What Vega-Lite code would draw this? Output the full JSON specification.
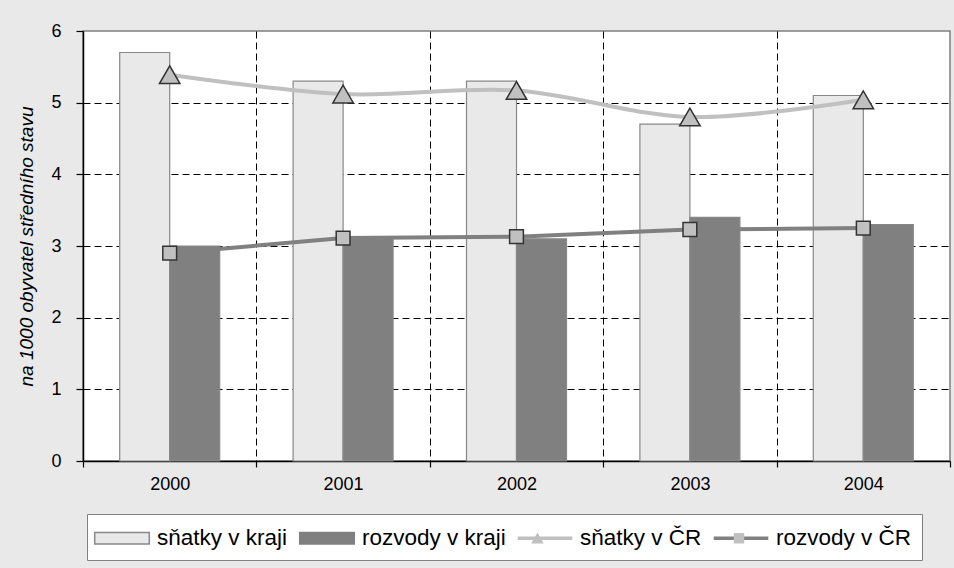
{
  "$schema": "https://vega.github.io/schema/vega-lite/v6.json",
  "width": 867,
  "height": 430,
  "autosize": {"type": "none"},
  "padding": {"left": 83, "top": 31, "right": 4, "bottom": 107},
  "background": "#e9e9e9",
  "datasets": {
    "bars": [
      {"year": "2000", "series": "sňatky v kraji", "value": 5.7},
      {"year": "2000", "series": "rozvody v kraji", "value": 3.0},
      {"year": "2001", "series": "sňatky v kraji", "value": 5.3},
      {"year": "2001", "series": "rozvody v kraji", "value": 3.1},
      {"year": "2002", "series": "sňatky v kraji", "value": 5.3},
      {"year": "2002", "series": "rozvody v kraji", "value": 3.1},
      {"year": "2003", "series": "sňatky v kraji", "value": 4.7},
      {"year": "2003", "series": "rozvody v kraji", "value": 3.4},
      {"year": "2004", "series": "sňatky v kraji", "value": 5.1},
      {"year": "2004", "series": "rozvody v kraji", "value": 3.3}
    ],
    "lines": [
      {"year": "2000", "series": "sňatky v ČR", "value": 5.39},
      {"year": "2001", "series": "sňatky v ČR", "value": 5.12},
      {"year": "2002", "series": "sňatky v ČR", "value": 5.17},
      {"year": "2003", "series": "sňatky v ČR", "value": 4.8},
      {"year": "2004", "series": "sňatky v ČR", "value": 5.04},
      {"year": "2000", "series": "rozvody v ČR", "value": 2.9},
      {"year": "2001", "series": "rozvody v ČR", "value": 3.11},
      {"year": "2002", "series": "rozvody v ČR", "value": 3.13},
      {"year": "2003", "series": "rozvody v ČR", "value": 3.23},
      {"year": "2004", "series": "rozvody v ČR", "value": 3.25}
    ]
  },
  "config": {
    "font": "Liberation Sans",
    "view": {"fill": "white", "stroke": "#808080", "strokeWidth": 1.5},
    "axis": {
      "labelFont": "Liberation Sans",
      "labelFontSize": 18,
      "labelColor": "black",
      "titleFont": "Liberation Sans",
      "titleColor": "black",
      "domainColor": "black",
      "tickColor": "black"
    },
    "legend": {
      "labelFont": "Liberation Sans",
      "labelFontSize": 22.5,
      "labelColor": "black",
      "symbolSize": 676,
      "symbolStrokeWidth": 1.5,
      "symbolOffset": 11,
      "labelOffset": 21,
      "columnPadding": 8,
      "padding": 10,
      "direction": "horizontal",
      "columns": 4
    }
  },
  "layer": [
    {
      "data": {"name": "bars"},
      "mark": {"type": "bar", "stroke": "#888888", "strokeWidth": 1.2},
      "encoding": {
        "x": {
          "field": "year", "type": "nominal",
          "scale": {"paddingInner": 0, "paddingOuter": 0},
          "axis": {"title": null, "labelAngle": 0, "tickBand": "extent", "grid": false, "tickSize": 6, "labelPadding": 8, "domainWidth": 1.5, "tickWidth": 1.2}
        },
        "xOffset": {
          "field": "series", "type": "nominal",
          "scale": {"domain": ["sňatky v kraji", "rozvody v kraji"], "paddingInner": 0, "paddingOuter": 0.734}
        },
        "y": {
          "field": "value", "type": "quantitative",
          "scale": {"domain": [0, 6], "nice": false},
          "axis": {
            "title": "na 1000 obyvatel středního stavu",
            "values": [0, 1, 2, 3, 4, 5, 6],
            "grid": false, "tickSize": 7, "labelPadding": 15, "domainWidth": 1.5, "tickWidth": 1.2,
            "titleFontStyle": "italic", "titleFontSize": 19, "titleFontWeight": "normal", "titlePadding": 14
          }
        },
        "color": {
          "field": "series", "type": "nominal",
          "scale": {
            "domain": ["sňatky v kraji", "rozvody v kraji", "sňatky v ČR", "rozvody v ČR"],
            "range": ["#e9e9e9", "#808080", "#c0c0c0", "#808080"]
          },
          "legend": {
            "title": null, "orient": "none", "legendX": 4, "legendY": 483,
            "direction": "horizontal", "columns": 4,
            "fillColor": "white", "strokeColor": "#808080",
            "symbolType": {"expr": "datum.value == 'sňatky v ČR' || datum.value == 'rozvody v ČR' ? 'M-2.1,-0.14H2.1V0.14H-2.1Z' : 'M-2.1,-0.44H2.1V0.44H-2.1Z'"},
            "symbolStrokeColor": {"expr": "datum.value == 'sňatky v kraji' ? '#888888' : datum.value == 'rozvody v kraji' ? '#808080' : 'transparent'"},
            "symbolOpacity": 1
          }
        }
      }
    },
    {
      "data": {"name": "lines"},
      "transform": [{"filter": "datum.series == 'sňatky v ČR'"}],
      "mark": {"type": "line", "strokeWidth": 4, "interpolate": "catmull-rom", "color": "#c0c0c0"},
      "encoding": {
        "x": {
          "field": "year", "type": "nominal",
          "axis": {"orient": "bottom", "title": null, "grid": true, "values": ["2001", "2002", "2003"], "tickBand": "extent", "labels": false, "ticks": false, "domain": false, "gridColor": "black", "gridDash": [7, 4], "gridWidth": 1}
        },
        "y": {
          "field": "value", "type": "quantitative",
          "axis": {"orient": "left", "title": null, "grid": true, "values": [1, 2, 3, 4, 5], "labels": false, "ticks": false, "domain": false, "gridColor": "black", "gridDash": [7, 4], "gridWidth": 1}
        }
      }
    },
    {
      "data": {"name": "lines"},
      "transform": [{"filter": "datum.series == 'rozvody v ČR'"}],
      "mark": {"type": "line", "strokeWidth": 4, "color": "#808080"},
      "encoding": {
        "x": {"field": "year", "type": "nominal", "axis": null},
        "y": {"field": "value", "type": "quantitative", "axis": null}
      }
    },
    {
      "data": {"name": "lines"},
      "mark": {"type": "point", "filled": true, "fill": "#c0c0c0", "stroke": "#333333", "fillOpacity": 1},
      "encoding": {
        "x": {"field": "year", "type": "nominal", "axis": null},
        "y": {"field": "value", "type": "quantitative", "axis": null},
        "size": {
          "field": "series", "type": "nominal",
          "scale": {"domain": ["sňatky v ČR", "rozvody v ČR"], "range": [420, 190]},
          "legend": null
        },
        "shape": {
          "field": "series", "type": "nominal",
          "scale": {"domain": ["sňatky v ČR", "rozvody v ČR"], "range": ["triangle-up", "square"]},
          "legend": null
        },
        "strokeWidth": {
          "field": "series", "type": "nominal",
          "scale": {"domain": ["sňatky v ČR", "rozvody v ČR", "sňatky v kraji", "rozvody v kraji"], "range": [1.5, 1.5]},
          "legend": {
            "title": null, "orient": "none", "legendX": 419.5, "legendY": 483,
            "direction": "horizontal", "columns": 2,
            "values": ["sňatky v ČR", "rozvody v ČR"],
            "labelExpr": "''",
            "columnPadding": 141.5,
            "fillColor": "transparent", "strokeColor": "transparent",
            "symbolType": {"expr": "datum.value == 'sňatky v ČR' ? 'M0,-0.45L0.48,0.4L-0.48,0.4Z' : 'M-0.4,-0.4H0.4V0.4H-0.4Z'"},
            "symbolOpacity": 1,
            "symbolFillColor": "#c0c0c0",
            "symbolStrokeColor": "#333333"
          }
        }
      }
    }
  ],
  "resolve": {"axis": {"x": "independent", "y": "independent"}}
}
